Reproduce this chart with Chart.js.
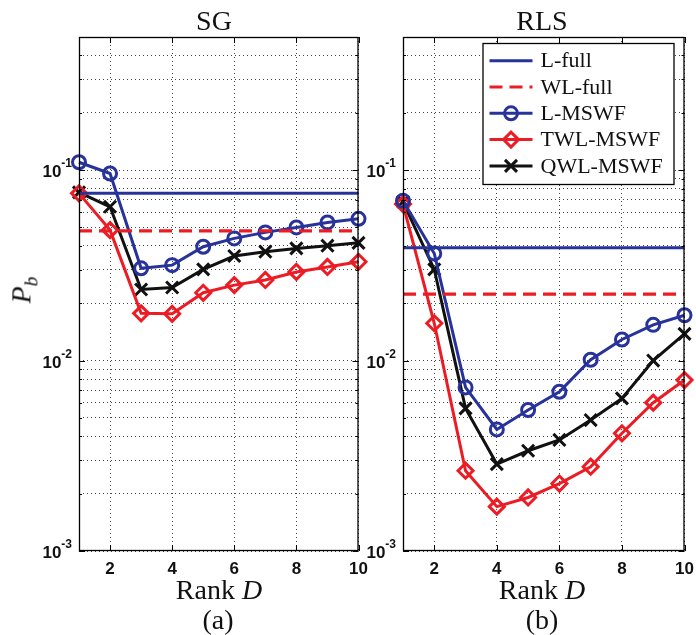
<!DOCTYPE html>
<html>
<head>
<title>Pb versus rank D</title>
<script src="https://cdn.jsdelivr.net/npm/chart.js"></script>
<style>
  body { margin: 0; background: #fff; }
  #wrap { position: relative; width: 696px; height: 635px; overflow: hidden; }
  canvas { position: absolute; top: 0; }
  .lbl { position: absolute; font-family: "Liberation Serif", "Times New Roman", serif; font-size: 28px;
         color: #111; white-space: nowrap; line-height: 1; transform: translate(-50%, -50%); }
  .lbl sub { font-size: 70%; }
</style>
</head>
<body>
<div id="wrap">
  <canvas id="chartA" width="370" height="635" style="left:0"></canvas>
  <canvas id="chartB" width="336" height="635" style="left:360px"></canvas>
  <div class="lbl" style="left:214px;top:21px">SG</div>
  <div class="lbl" style="left:542px;top:21px">RLS</div>
  <div class="lbl" style="left:219px;top:590px">Rank <i>D</i></div>
  <div class="lbl" style="left:542px;top:590px">Rank <i>D</i></div>
  <div class="lbl" style="left:218px;top:620px">(a)</div>
  <div class="lbl" style="left:542px;top:620px">(b)</div>
  <div class="lbl" style="left:24px;top:290px;transform:translate(-50%,-50%) rotate(-90deg)"><i>P<sub>b</sub></i></div>
</div>

<script>
// ranks on the x axis
const ranks = [1, 2, 3, 4, 5, 6, 7, 8, 9, 10];
const xTicks = [2, 4, 6, 8, 10];
const yTicks = [0.001, 0.002, 0.003, 0.004, 0.005, 0.006, 0.007, 0.008, 0.009,
                0.01, 0.02, 0.03, 0.04, 0.05, 0.06, 0.07, 0.08, 0.09,
                0.1, 0.2, 0.3, 0.4, 0.5];
const yMajor = [0.001, 0.01, 0.1];

// (a) SG
const sgLFull = 0.0755;
const sgWLFull = 0.048;
const sgLMswf   = [0.110, 0.096, 0.0305, 0.0317, 0.0396, 0.0438, 0.0471, 0.0500, 0.0531, 0.0555];
const sgTwlMswf = [0.0755, 0.0484, 0.0177, 0.0176, 0.0227, 0.0249, 0.0265, 0.0292, 0.0310, 0.0330];
const sgQwlMswf = [0.0764, 0.0642, 0.0236, 0.0242, 0.0301, 0.0354, 0.0373, 0.0388, 0.0401, 0.0415];

// (b) RLS
const rlsLFull = 0.0391;
const rlsWLFull = 0.0223;
const rlsLMswf   = [0.0690, 0.0365, 0.00723, 0.00435, 0.00550, 0.00686, 0.0101, 0.0129, 0.0154, 0.0173];
const rlsTwlMswf = [0.0663, 0.0157, 0.00264, 0.00171, 0.00191, 0.00226, 0.00277, 0.00415, 0.00601, 0.0079];
const rlsQwlMswf = [0.0682, 0.0301, 0.00561, 0.00286, 0.00336, 0.00383, 0.00487, 0.00633, 0.0100, 0.0138];

const BLUE = '#27339b';
const RED = '#ec1c24';
const BLACK = '#111111';

function pts(vals) {
    return ranks.map((r, i) => ({ x: r, y: vals[i] }));
}
function flat(v) {
    return [{ x: ranks[0], y: v }, { x: ranks[ranks.length - 1], y: v }];
}

function makeSets(lFull, wlFull, lM, twlM, qwlM) {
    const marker = { borderWidth: 3, pointBorderWidth: 3, pointBackgroundColor: 'rgba(0,0,0,0)', clip: false };
    return [
        { label: 'L-full', data: flat(lFull), borderColor: BLUE, borderWidth: 3, pointRadius: 0, clip: false },
        { label: 'WL-full', data: flat(wlFull), borderColor: RED, borderWidth: 3.2, borderDash: [13, 7], pointRadius: 0, clip: false },
        Object.assign({ label: 'L-MSWF', data: pts(lM), borderColor: BLUE, pointBorderColor: BLUE,
                        pointStyle: 'circle', pointRadius: 6.5 }, marker),
        Object.assign({ label: 'TWL-MSWF', data: pts(twlM), borderColor: RED, pointBorderColor: RED,
                        pointStyle: 'rectRot', pointRadius: 7.5 }, marker),
        Object.assign({ label: 'QWL-MSWF', data: pts(qwlM), borderColor: BLACK, pointBorderColor: BLACK,
                        pointStyle: 'crossRot', pointRadius: 8.5 }, marker)
    ];
}

// frame, inward ticks and tick labels (MATLAB look)
const axesDeco = {
    id: 'axesDeco',
    afterDraw(chart) {
        const ctx = chart.ctx;
        const a = chart.chartArea;
        const xs = chart.scales.x, ys = chart.scales.y;
        ctx.save();
        ctx.setLineDash([]);
        ctx.strokeStyle = '#000';
        ctx.lineWidth = 1.3;
        ctx.strokeRect(a.left + 0.5, a.top + 0.5, a.right - a.left - 1, a.bottom - a.top - 1);

        ctx.lineWidth = 1;
        ctx.beginPath();
        yTicks.forEach(v => {
            const y = Math.round(ys.getPixelForValue(v)) + 0.5;
            const len = yMajor.includes(v) ? 6 : 3;
            ctx.moveTo(a.left, y); ctx.lineTo(a.left + len, y);
            ctx.moveTo(a.right, y); ctx.lineTo(a.right - len, y);
        });
        xTicks.forEach(v => {
            const x = Math.round(xs.getPixelForValue(v)) + 0.5;
            ctx.moveTo(x, a.bottom); ctx.lineTo(x, a.bottom - 6);
            ctx.moveTo(x, a.top); ctx.lineTo(x, a.top + 6);
        });
        ctx.stroke();

        ctx.fillStyle = '#111';
        // y tick labels 10^n
        yMajor.forEach(v => {
            const y = ys.getPixelForValue(v);
            const sup = String(Math.round(Math.log10(v)));
            ctx.font = 'bold 12px "Liberation Sans", Arial, sans-serif';
            const supW = ctx.measureText(sup).width;
            ctx.textAlign = 'left';
            ctx.textBaseline = 'alphabetic';
            const right = a.left - 7;
            ctx.fillText(sup, right - supW, y - 3);
            ctx.font = 'bold 17px "Liberation Sans", Arial, sans-serif';
            ctx.textAlign = 'right';
            ctx.fillText('10', right - supW, y + 7);
        });
        // x tick labels
        ctx.font = 'bold 17px "Liberation Sans", Arial, sans-serif';
        ctx.textAlign = 'center';
        ctx.textBaseline = 'alphabetic';
        xTicks.forEach(v => {
            ctx.fillText(String(v), xs.getPixelForValue(v), a.bottom + 23);
        });
        ctx.restore();
    }
};

// boxed legend inside the RLS panel
const boxLegend = {
    id: 'boxLegend',
    afterDraw(chart, args, opts) {
        if (!opts.show) return;
        const ctx = chart.ctx;
        const a = chart.chartArea;
        const right = a.right - 11, top = a.top + 6;
        const w = 191, h = 141, left = right - w;
        const rowH = 26.3;
        ctx.save();
        ctx.fillStyle = '#fff';
        ctx.fillRect(left, top, w, h);
        ctx.strokeStyle = '#000';
        ctx.lineWidth = 1.3;
        ctx.strokeRect(left + 0.5, top + 0.5, w, h);
        chart.data.datasets.forEach((ds, i) => {
            const y = top + 17.7 + i * rowH;
            const x0 = left + 7, x1 = left + 50;
            ctx.strokeStyle = ds.borderColor;
            ctx.lineWidth = ds.borderWidth;
            ctx.setLineDash(ds.borderDash || []);
            ctx.beginPath();
            ctx.moveTo(x0, y); ctx.lineTo(x1, y);
            ctx.stroke();
            ctx.setLineDash([]);
            if (ds.pointRadius > 0 && Chart.helpers && Chart.helpers.drawPoint) {
                ctx.fillStyle = 'rgba(0,0,0,0)';
                ctx.lineWidth = ds.pointBorderWidth;
                Chart.helpers.drawPoint(ctx, { pointStyle: ds.pointStyle, radius: ds.pointRadius,
                    rotation: 0, borderWidth: ds.pointBorderWidth }, (x0 + x1) / 2, y);
            }
            ctx.fillStyle = '#111';
            ctx.font = '22px "Liberation Serif", "Times New Roman", serif';
            ctx.textAlign = 'left';
            ctx.textBaseline = 'middle';
            ctx.fillText(ds.label, left + 58, y + 1);
        });
        ctx.restore();
    }
};

function makeChart(id, datasets, yWidth, padRight, withLegend) {
    const grid = { color: 'rgba(40,40,40,0.85)', lineWidth: 1, drawTicks: false };
    return new Chart(document.getElementById(id).getContext('2d'), {
        type: 'line',
        data: { datasets: datasets },
        options: {
            responsive: false,
            animation: false,
            layout: { padding: { top: 37, right: padRight, left: 0, bottom: 0 } },
            plugins: {
                legend: { display: false },
                tooltip: { enabled: false },
                boxLegend: { show: withLegend }
            },
            scales: {
                x: {
                    type: 'linear', min: 1, max: 10,
                    grid: grid,
                    border: { display: false, dash: [1, 3] },
                    ticks: { display: false },
                    afterBuildTicks: s => { s.ticks = xTicks.map(v => ({ value: v })); },
                    afterFit: s => { s.height = 84; }
                },
                y: {
                    type: 'logarithmic', min: 0.001, max: 0.5,
                    grid: grid,
                    border: { display: false, dash: [1, 3] },
                    ticks: { display: false },
                    afterBuildTicks: s => { s.ticks = yTicks.map(v => ({ value: v })); },
                    afterFit: s => { s.width = yWidth; }
                }
            }
        },
        plugins: [axesDeco, boxLegend]
    });
}

makeChart('chartA', makeSets(sgLFull, sgWLFull, sgLMswf, sgTwlMswf, sgQwlMswf), 79, 8, false);
makeChart('chartB', makeSets(rlsLFull, rlsWLFull, rlsLMswf, rlsTwlMswf, rlsQwlMswf), 43, 11, true);
</script>
</body>
</html>
